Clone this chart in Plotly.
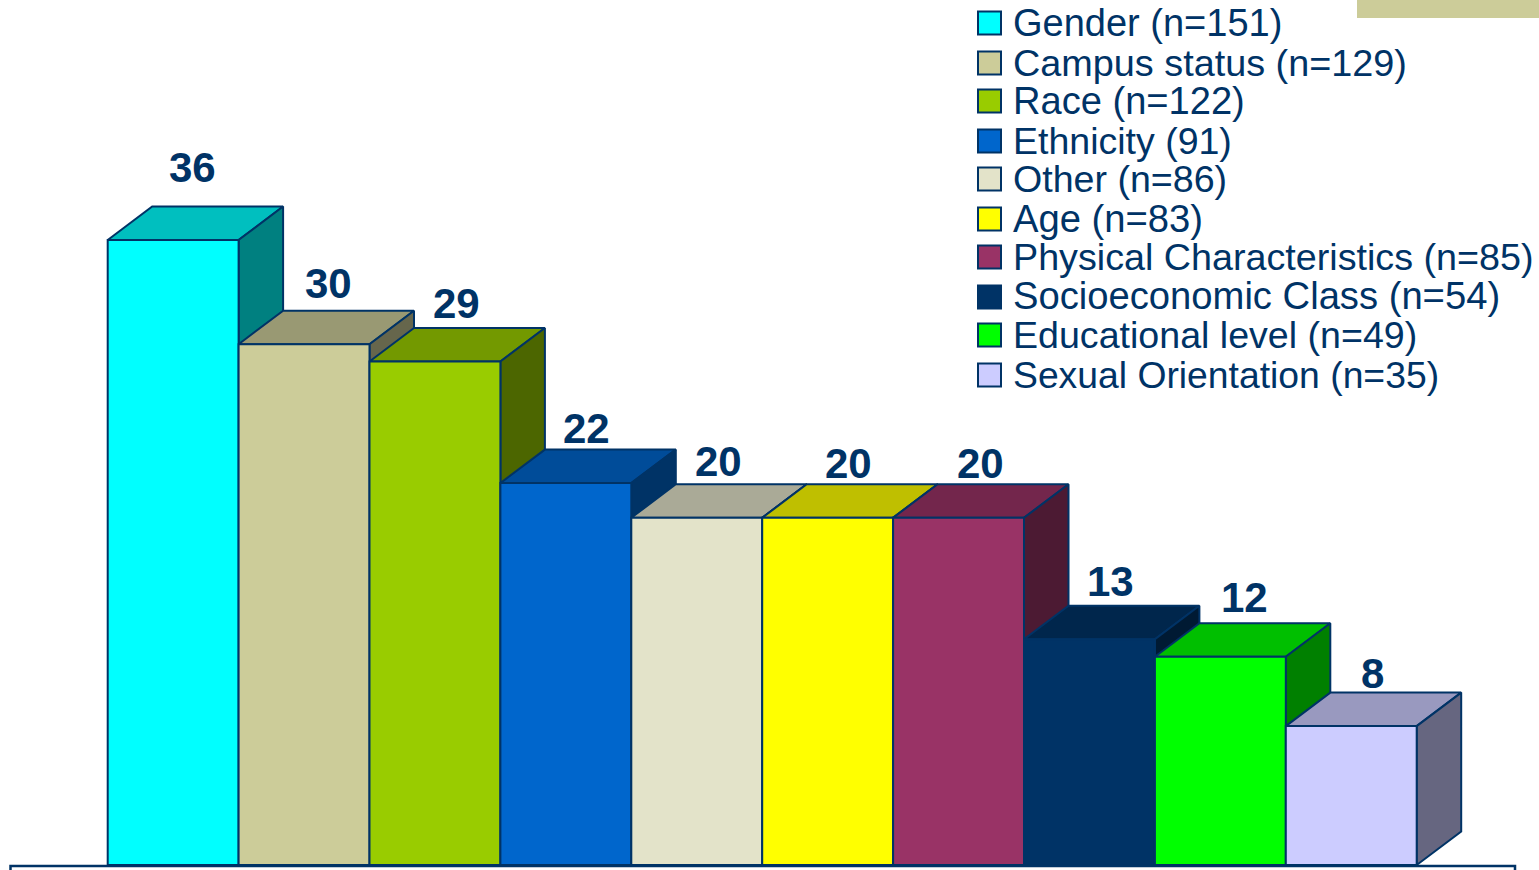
"""Bar chart with a hand-built 3D look, drawn from the category values"""
import plotly.graph_objects as go

CATEGORIES = ["Gender", "Campus status", "Race", "Ethnicity", "Other", "Age",
              "Physical Characteristics", "Socioeconomic Class",
              "Educational level", "Sexual Orientation"]
VALUES = [36, 30, 29, 22, 20, 20, 20, 13, 12, 8]
LEGEND_COUNTS = ["n=151", "n=129", "n=122", "91", "n=86", "n=83",
                 "n=85", "n=54", "n=49", "n=35"]

# front face colours, the top and side faces are darker versions of these
COLORS = [(0, 255, 255), (204, 204, 153), (153, 204, 0), (0, 102, 204),
          (227, 227, 201), (255, 255, 0), (153, 51, 102), (0, 51, 102),
          (0, 255, 0), (204, 204, 255)]

NAVY = "#003366"
FONT = "Liberation Sans"
WIDTH, HEIGHT = 1539, 870

# pixel layout
LEFT_EDGE, BAR_PX = 107.7, 130.9
BASE_Y, UNIT_PX = 865, 17.36
DEPTH_X = 44.5 / BAR_PX
DEPTH_Y = 33.5 / UNIT_PX

# value label offsets from the front top centre of each bar, in pixels
LABEL_SHIFT_X = [19, 24, 22, 21, 22, 21, 22, 21, 24, 21]
LABEL_SHIFT_Y = [73, 61, 58, 55, 56, 54, 54, 58, 59, 53]
LEGEND_ROWS_Y = [23, 63, 101, 141, 179, 219, 257, 297, 335, 375]
LEGEND_TEXT_Y = [23, 63, 101, 141, 179, 219, 257, 296, 335, 375]
# the legend text in the picture is not evenly stretched, so sizes differ a little
LEGEND_FONT_SIZES = [38, 37.8, 38.1, 37.5, 37.6, 38.2, 37.7, 38.2, 37.6, 37.3]


def shade(rgb, factor):
    return "rgb({},{},{})".format(*[round(c * factor) for c in rgb])


def add_face(fig, xs, ys, color, name):
    fig.add_trace(go.Scatter(
        x=xs + xs[:1],
        y=ys + ys[:1],
        mode="lines",
        fill="toself",
        fillcolor=color,
        line=dict(color=NAVY, width=2),
        name=name,
        hoverinfo="name",
        showlegend=False
    ))


def px_x(x):
    return x / WIDTH


def px_y(y):
    return 1 - y / HEIGHT


fig = go.Figure()

# left to right, so each bar covers the side of the one before it
for i, (name, value, rgb) in enumerate(zip(CATEGORIES, VALUES, COLORS)):
    x0, x1 = i - 0.5, i + 0.5
    add_face(fig, [x0, x0 + DEPTH_X, x1 + DEPTH_X, x1],
             [value, value + DEPTH_Y, value + DEPTH_Y, value],
             shade(rgb, 0.75), name)
    add_face(fig, [x1, x1 + DEPTH_X, x1 + DEPTH_X, x1],
             [0, DEPTH_Y, value + DEPTH_Y, value],
             shade(rgb, 0.5), name)
    add_face(fig, [x0, x1, x1, x0], [0, 0, value, value], shade(rgb, 1), name)

    fig.add_annotation(
        x=i, y=value, text=f"<b>{value}</b>",
        xshift=LABEL_SHIFT_X[i], yshift=LABEL_SHIFT_Y[i],
        showarrow=False, xanchor="center", yanchor="middle",
        font=dict(family=FONT, size=42, color=NAVY)
    )

# legend, built by hand because plotly cannot size the swatches this large
for i, (name, count, rgb) in enumerate(zip(CATEGORIES, LEGEND_COUNTS, COLORS)):
    row_y = LEGEND_ROWS_Y[i]
    fig.add_shape(
        type="rect", xref="paper", yref="paper",
        x0=px_x(978), x1=px_x(1001), y0=px_y(row_y + 11.5), y1=px_y(row_y - 11.5),
        fillcolor=shade(rgb, 1), line=dict(color=NAVY, width=2)
    )
    fig.add_annotation(
        xref="paper", yref="paper", x=px_x(1010.5), y=px_y(LEGEND_TEXT_Y[i]),
        text=f"{name} ({count})", showarrow=False,
        xanchor="left", yanchor="middle",
        font=dict(family=FONT, size=LEGEND_FONT_SIZES[i], color=NAVY)
    )

# corner block and the frame under the bars
fig.add_shape(type="rect", xref="paper", yref="paper",
              x0=px_x(1357), x1=1, y0=px_y(18), y1=1,
              fillcolor="#CCCC99", line=dict(width=0))
fig.add_shape(type="rect", xref="paper", yref="paper",
              x0=px_x(10.5), x1=px_x(1515), y0=px_y(890), y1=px_y(866),
              fillcolor="rgba(0,0,0,0)", line=dict(color=NAVY, width=2.5))

fig.update_layout(
    width=WIDTH,
    height=HEIGHT,
    margin=dict(l=0, r=0, t=0, b=0),
    paper_bgcolor="white",
    plot_bgcolor="white",
    showlegend=False,
    xaxis=dict(visible=False, range=[(0 - LEFT_EDGE) / BAR_PX - 0.5,
                                     (WIDTH - LEFT_EDGE) / BAR_PX - 0.5]),
    yaxis=dict(visible=False, range=[(BASE_Y - HEIGHT) / UNIT_PX, BASE_Y / UNIT_PX])
)

fig.write_html(
    "out.html",
    config=dict(displayModeBar=False),
    post_script="document.body.style.margin='0';document.body.style.overflow='hidden';"
)
